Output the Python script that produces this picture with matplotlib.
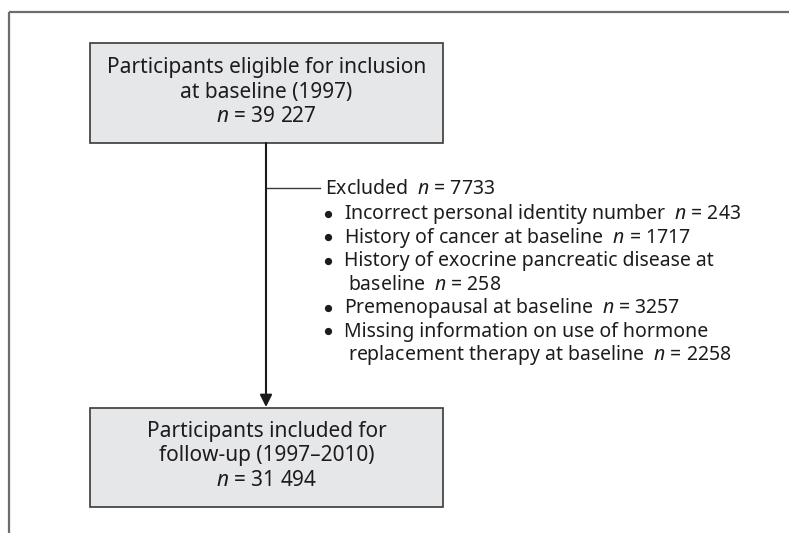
import matplotlib.pyplot as plt
from matplotlib.patches import Rectangle

plt.rcParams['font.family'] = 'Noto Sans'
plt.rcParams['mathtext.fontset'] = 'custom'
plt.rcParams['mathtext.rm'] = 'Noto Sans'
plt.rcParams['mathtext.it'] = 'Noto Sans:italic'

# flowchart content
top_label = ["Participants eligible for inclusion", "at baseline (1997)"]
top_n = "39 227"
bottom_label = ["Participants included for", "follow-up (1997\u20132010)"]
bottom_n = "31 494"
excluded_n = 7733
reasons = [
    ["Incorrect personal identity number"],
    ["History of cancer at baseline"],
    ["History of exocrine pancreatic disease at", "baseline"],
    ["Premenopausal at baseline"],
    ["Missing information on use of hormone", "replacement therapy at baseline"],
]
reason_n = [243, 1717, 258, 3257, 2258]

W, H = 789, 533
fig = plt.figure(figsize=(W / 100, H / 100), dpi=100)
ax = fig.add_axes([0, 0, 1, 1])
ax.set_xlim(0, W)
ax.set_ylim(H, 0)
ax.axis('off')

fs_box = 15
fs = 14
txt_col = '#1e1b1c'
fill = '#e6e7e8'
edge = '#3a3a3a'

# outer frame (only top and left edges visible)
ax.plot([9, W + 5], [12, 12], color='#6d6d6d', lw=1.6, solid_capstyle='butt')
ax.plot([9, 9], [12, H + 5], color='#6d6d6d', lw=1.6, solid_capstyle='butt')

# boxes
bx0, bx1 = 90, 443
for y0, y1 in [(43, 143), (408, 507)]:
    ax.add_patch(Rectangle((bx0, y0), bx1 - bx0, y1 - y0, facecolor=fill,
                           edgecolor=edge, lw=1.2))

cx = (bx0 + bx1) / 2
for i, s in enumerate(top_label + [f"$n$ = {top_n}"]):
    ax.text(cx, 68 + 24.5 * i, s, ha='center', va='center', fontsize=fs_box, color=txt_col)
for i, s in enumerate(bottom_label + [f"$n$ = {bottom_n}"]):
    ax.text(cx, 431 + 24.5 * i, s, ha='center', va='center', fontsize=fs_box, color=txt_col)

# arrow
ax.annotate('', xy=(266, 407), xytext=(266, 143),
            arrowprops=dict(arrowstyle='-|>', color='#1a1a1a', lw=1.5,
                            mutation_scale=18, shrinkA=0, shrinkB=0))
ax.plot([266, 320], [188, 188], color='#3a3a3a', lw=1.0)

# excluded list
ax.text(325, 189, f"Excluded  $n$ = {excluded_n}", ha='left', va='center',
        fontsize=fs, color=txt_col)
y = 214
for lines, n in zip(reasons, reason_n):
    ax.plot(328.5, y - 0.5, 'o', ms=4.2, color=txt_col)
    for j, s in enumerate(lines):
        if j == len(lines) - 1:
            s = s + f"  $n$ = {n}"
        ax.text(344 if j == 0 else 348, y, s, ha='left', va='center',
                fontsize=fs, color=txt_col)
        y += 23.5

fig.savefig('out.png', dpi=100, facecolor='white')
